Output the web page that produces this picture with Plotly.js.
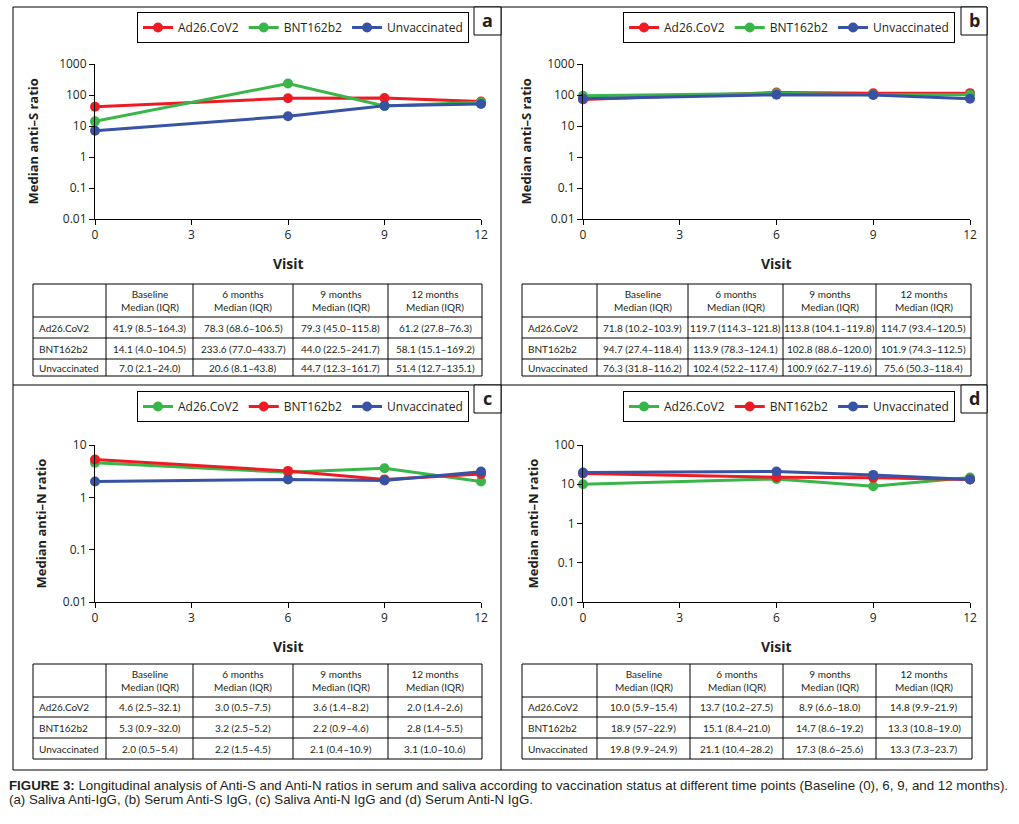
<!DOCTYPE html>
<html>
<head>
<meta charset="utf-8">
<script src="https://cdn.plot.ly/plotly-3.0.1.min.js"></script>
<style>
  html, body { margin: 0; padding: 0; background: #fff; }
  #chart { width: 1019px; height: 824px; }
</style>
</head>
<body>
<div id="chart"></div>
<script>
'use strict';

// visits in months
const visits = [0, 6, 9, 12];
const xTicks = [0, 3, 6, 9, 12];
const groups = ['Ad26.CoV2', 'BNT162b2', 'Unvaccinated'];
const colHeads = ['Baseline', '6 months', '9 months', '12 months'];

// (a) saliva anti-IgG (anti-S)
const aAd26 = [41.9, 78.3, 79.3, 61.2];
const aBnt = [14.1, 233.6, 44.0, 58.1];
const aUnvac = [7.0, 20.6, 44.7, 51.4];
const aAd26Iqr = ['8.5–164.3', '68.6–106.5', '45.0–115.8', '27.8–76.3'];
const aBntIqr = ['4.0–104.5', '77.0–433.7', '22.5–241.7', '15.1–169.2'];
const aUnvacIqr = ['2.1–24.0', '8.1–43.8', '12.3–161.7', '12.7–135.1'];

// (b) serum anti-S IgG
const bAd26 = [71.8, 119.7, 113.8, 114.7];
const bBnt = [94.7, 113.9, 102.8, 101.9];
const bUnvac = [76.3, 102.4, 100.9, 75.6];
const bAd26Iqr = ['10.2–103.9', '114.3–121.8', '104.1–119.8', '93.4–120.5'];
const bBntIqr = ['27.4–118.4', '78.3–124.1', '88.6–120.0', '74.3–112.5'];
const bUnvacIqr = ['31.8–116.2', '52.2–117.4', '62.7–119.6', '50.3–118.4'];

// (c) saliva anti-N IgG
const cAd26 = [4.6, 3.0, 3.6, 2.0];
const cBnt = [5.3, 3.2, 2.2, 2.8];
const cUnvac = [2.0, 2.2, 2.1, 3.1];
const cAd26Iqr = ['2.5–32.1', '0.5–7.5', '1.4–8.2', '1.4–2.6'];
const cBntIqr = ['0.9–32.0', '2.5–5.2', '0.9–4.6', '1.4–5.5'];
const cUnvacIqr = ['0.5–5.4', '1.5–4.5', '0.4–10.9', '1.0–10.6'];

// (d) serum anti-N IgG
const dAd26 = [10.0, 13.7, 8.9, 14.8];
const dBnt = [18.9, 15.1, 14.7, 13.3];
const dUnvac = [19.8, 21.1, 17.3, 13.3];
const dAd26Iqr = ['5.9–15.4', '10.2–27.5', '6.6–18.0', '9.9–21.9'];
const dBntIqr = ['57–22.9', '8.4–21.0', '8.6–19.2', '10.8–19.0'];
const dUnvacIqr = ['9.9–24.9', '10.4–28.2', '8.6–25.6', '7.3–23.7'];

const RED = '#ed1c24', GREEN = '#3ab54a', BLUE = '#3953a4';
const INK = '#231f20';
const W = 1019, H = 824;

const px = x => x / W;
const py = y => 1 - y / H;

// panel geometry in page pixels
const panels = [
  { id: 'a', ax: '', leg: 'legend', plot: [95, 481, 64, 219], decades: [-2, 3], title: 'Median anti–S ratio', titleX: 32,
    colX: [33, 106, 193, 293, 388, 482], rowY: [284, 317, 338, 359, 376], legBox: [469, 12], label: [474, 501, 7, 35],
    series: [[aAd26, aAd26Iqr, RED], [aBnt, aBntIqr, GREEN], [aUnvac, aUnvacIqr, BLUE]] },
  { id: 'b', ax: '2', leg: 'legend2', plot: [583, 970, 64, 219], decades: [-2, 3], title: 'Median anti–S ratio', titleX: 525,
    colX: [522, 597, 688, 783, 876, 971], rowY: [284, 317, 338, 359, 376], legBox: [955, 12], label: [961, 987, 7, 35],
    series: [[bAd26, bAd26Iqr, RED], [bBnt, bBntIqr, GREEN], [bUnvac, bUnvacIqr, BLUE]] },
  { id: 'c', ax: '3', leg: 'legend3', plot: [95, 481, 445, 602], decades: [-2, 1], title: 'Median anti–N ratio', titleX: 40,
    colX: [33, 106, 193, 293, 388, 482], rowY: [664, 697, 717, 738, 759], legBox: [469, 391], label: [474, 501, 385, 413],
    series: [[cAd26, cAd26Iqr, GREEN], [cBnt, cBntIqr, RED], [cUnvac, cUnvacIqr, BLUE]] },
  { id: 'd', ax: '4', leg: 'legend4', plot: [583, 970, 445, 602], decades: [-2, 2], title: 'Median anti–N ratio', titleX: 532,
    colX: [522, 597, 690, 783, 876, 972], rowY: [664, 697, 717, 738, 759], legBox: [955, 391], label: [961, 987, 385, 413],
    series: [[dAd26, dAd26Iqr, GREEN], [dBnt, dBntIqr, RED], [dUnvac, dUnvacIqr, BLUE]] }
];

const traces = [];
const layout = {
  width: W, height: H,
  margin: { l: 0, r: 0, t: 0, b: 0 },
  paper_bgcolor: '#fff', plot_bgcolor: '#fff',
  font: { family: 'Open Sans, sans-serif', color: INK, size: 12 },
  showlegend: true,
  shapes: [], annotations: []
};

const lineShape = (x0, y0, x1, y1) => ({
  type: 'line', xref: 'paper', yref: 'paper', layer: 'above',
  x0: px(x0), y0: py(y0), x1: px(x1), y1: py(y1),
  line: { color: '#000', width: 1 }
});

const note = (x, y, text, font, extra) => Object.assign({
  xref: 'paper', yref: 'paper', x: px(x), y: py(y), text: text,
  xanchor: 'center', yanchor: 'middle', showarrow: false, font: font
}, extra || {});

const TABLE_FONT = { family: 'Lato, sans-serif', size: 10, color: INK };

// outer frame and dividers
layout.shapes.push(
  { type: 'rect', xref: 'paper', yref: 'paper', x0: px(13), y0: py(7), x1: px(987), y1: py(770), line: { color: '#000', width: 1 } },
  lineShape(501, 7, 501, 770),
  lineShape(13, 385, 987, 385)
);

panels.forEach(p => {
  const xa = 'xaxis' + p.ax, ya = 'yaxis' + p.ax;
  const [x0, x1, yTop, yBot] = p.plot;
  const decadeVals = [];
  for (let k = p.decades[0]; k <= p.decades[1]; k++) decadeVals.push(Math.pow(10, k));

  layout[xa] = {
    domain: [px(x0), px(x1)], anchor: 'y' + p.ax,
    range: [0, 12], tickvals: xTicks, ticks: 'outside', ticklen: 5, tickcolor: '#000',
    showline: true, linecolor: '#000', linewidth: 1, showgrid: false, zeroline: false,
    tickfont: { size: 12, color: INK }, fixedrange: true
  };
  layout[ya] = {
    domain: [py(yBot), py(yTop)], anchor: 'x' + p.ax, type: 'log',
    range: p.decades, tickvals: decadeVals, ticktext: decadeVals.map(v => String(v)),
    ticks: 'outside', ticklen: 5, tickcolor: '#000',
    showline: true, linecolor: '#000', linewidth: 1, showgrid: false, zeroline: false,
    tickfont: { size: 12, color: INK }, fixedrange: true
  };

  layout[p.leg] = {
    x: px(p.legBox[0]), xanchor: 'right', y: py(p.legBox[1]), yanchor: 'top',
    orientation: 'h', bgcolor: '#fff', bordercolor: '#000', borderwidth: 1,
    font: { size: 12, color: INK }, itemwidth: 30, itemclick: false, itemdoubleclick: false
  };

  p.series.forEach((s, i) => {
    traces.push({
      type: 'scatter', mode: 'lines+markers',
      x: visits, y: s[0], name: groups[i],
      xaxis: 'x' + p.ax, yaxis: 'y' + p.ax, legend: p.leg,
      line: { color: s[2], width: 3 },
      marker: { color: s[2], size: 10 },
      cliponaxis: false, hoverinfo: 'skip'
    });
  });

  // axis titles
  layout.annotations.push(
    note(p.titleX, (yTop + yBot) / 2, '<b>' + p.title + '</b>', { size: 13, color: INK }, { textangle: -90 }),
    note((x0 + x1) / 2, yBot + 44, '<b>Visit</b>', { size: 14, color: INK })
  );

  // panel letter box
  const [lx0, lx1, ly0, ly1] = p.label;
  layout.shapes.push({ type: 'rect', xref: 'paper', yref: 'paper', x0: px(lx0), y0: py(ly0), x1: px(lx1), y1: py(ly1),
    line: { color: '#000', width: 1 }, fillcolor: '#fff', layer: 'above' });
  layout.annotations.push(note((lx0 + lx1) / 2, (ly0 + ly1) / 2 - 1, '<b>' + p.id + '</b>', { size: 18, color: INK }));

  // median (IQR) table: grid
  const cx = p.colX, ry = p.rowY;
  layout.shapes.push({ type: 'rect', xref: 'paper', yref: 'paper', layer: 'above',
    x0: px(cx[0]), y0: py(ry[0]), x1: px(cx[5]), y1: py(ry[4]), line: { color: '#000', width: 1 } });
  for (let c = 1; c < 5; c++) layout.shapes.push(lineShape(cx[c], ry[0], cx[c], ry[4]));
  for (let r = 1; r < 4; r++) layout.shapes.push(lineShape(cx[0], ry[r], cx[5], ry[r]));

  // header text
  colHeads.forEach((h, c) => {
    layout.annotations.push(note((cx[c + 1] + cx[c + 2]) / 2, (ry[0] + ry[1]) / 2, h + '<br>Median (IQR)', TABLE_FONT));
  });
  // body text
  p.series.forEach((s, r) => {
    const yMid = (ry[r + 1] + ry[r + 2]) / 2;
    layout.annotations.push(note(cx[0] + 4, yMid, groups[r], TABLE_FONT, { xanchor: 'left' }));
    for (let c = 0; c < 4; c++) {
      const txt = s[0][c].toFixed(1) + ' (' + s[1][c] + ')';
      layout.annotations.push(note((cx[c + 1] + cx[c + 2]) / 2, yMid, txt, TABLE_FONT));
    }
  });
});

// figure caption
const CAP_FONT = { family: 'Liberation Sans Narrow, sans-serif', size: 13.3, color: INK };
layout.annotations.push(
  note(7, 785, '<b>FIGURE 3:</b> Longitudinal analysis of Anti-S and Anti-N ratios in serum and saliva according to vaccination status at different time points (Baseline (0), 6, 9, and 12 months).',
    CAP_FONT, { xanchor: 'left' }),
  note(7, 799, '(a) Saliva Anti-IgG, (b) Serum Anti-S IgG, (c) Saliva Anti-N IgG and (d) Serum Anti-N IgG.',
    CAP_FONT, { xanchor: 'left' })
);

Plotly.newPlot('chart', traces, layout, { displayModeBar: false, staticPlot: true });
</script>
</body>
</html>
